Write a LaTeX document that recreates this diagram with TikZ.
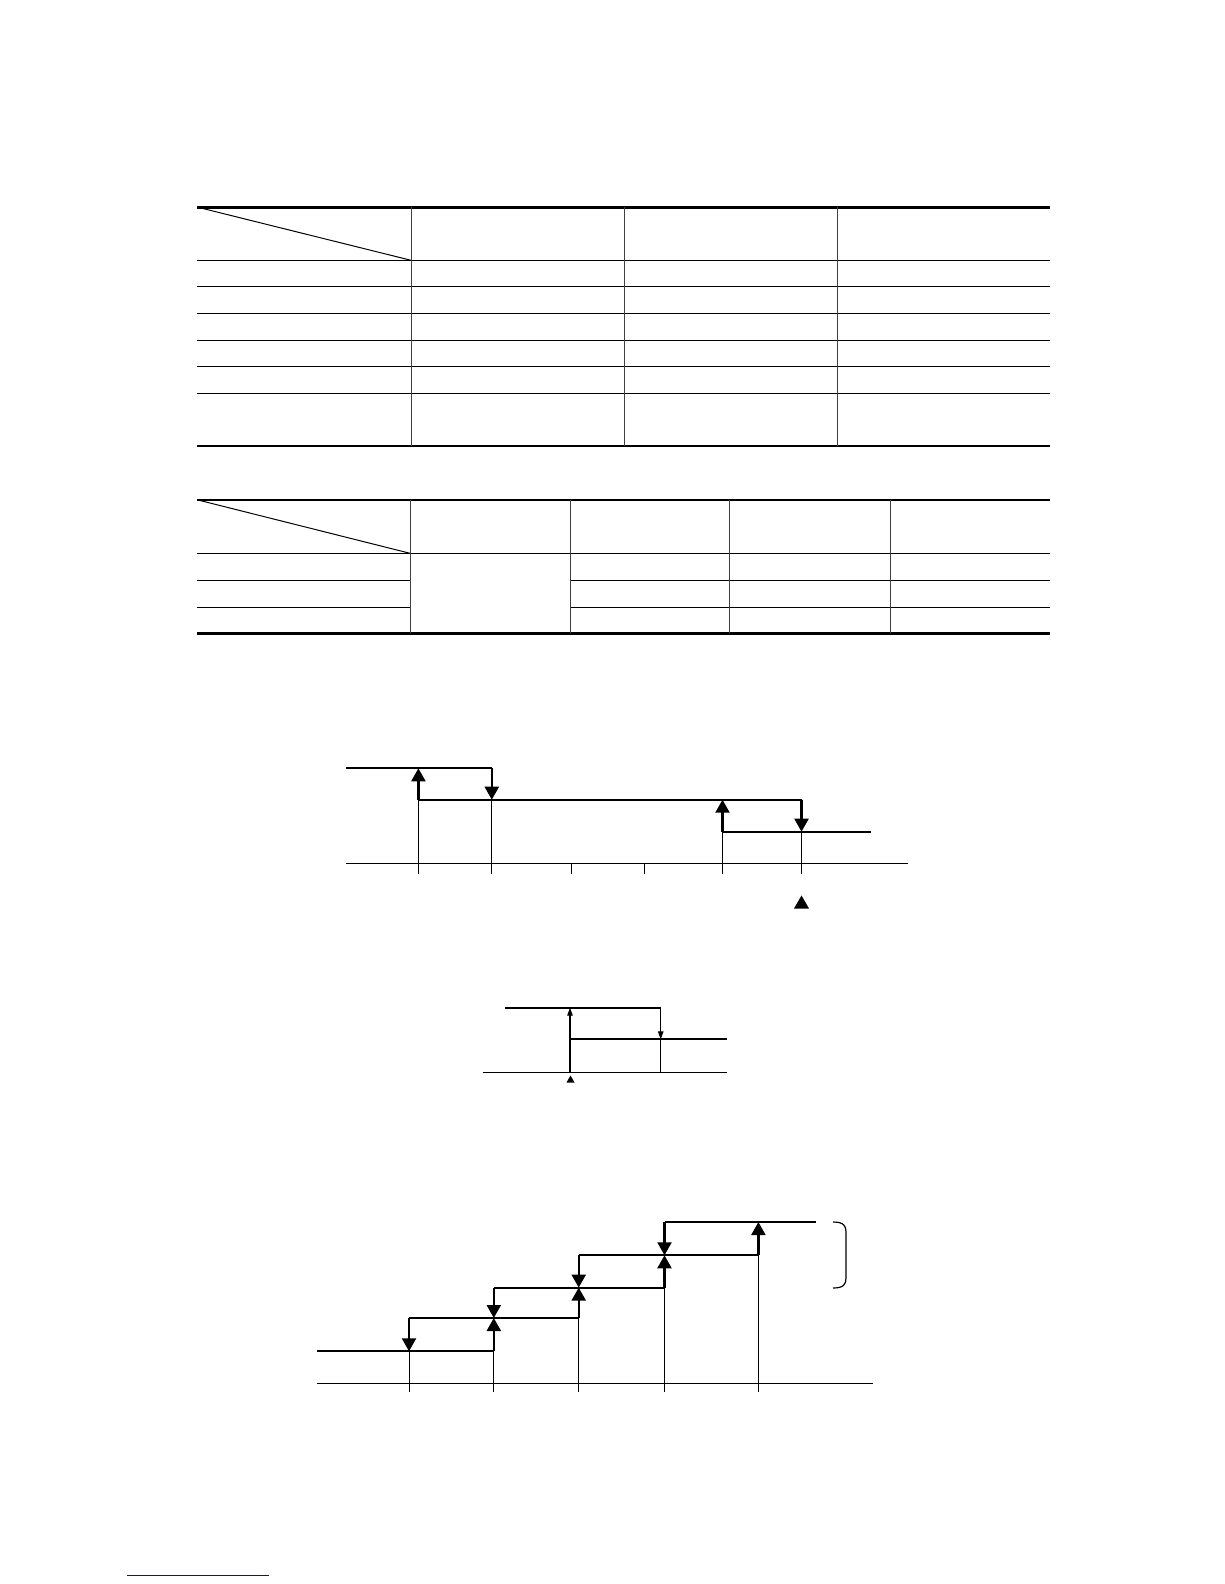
\documentclass[tikz,border=0pt]{standalone}
\usetikzlibrary{arrows.meta}
\definecolor{linkblue}{RGB}{16,16,128}
\begin{document}
\begin{tikzpicture}[x=1pt,y=-1pt,
  rule/.style={line width=1.1pt},
  heavyrule/.style={line width=2.4pt},
  colrule/.style={line width=0.9pt, black!75},
  thinline/.style={line width=1pt},
  level/.style={line width=2.2pt},
  bigarrow/.style={line width=2.2pt,-{Triangle[length=13pt,width=14pt]}},
  smallarrow/.style={line width=1.2pt,-{Triangle[length=8pt,width=5.5pt]}},
  marker/.style={fill=black},
]
\useasboundingbox (0,0) rectangle (1224,1584);

% ---------- Table 1 ----------
\draw[heavyrule] (197,207.3) -- (1050,207.3);
\draw[heavyrule] (197,446) -- (1050,446);
\foreach \y in {260.3,286.3,313.3,340.3,366.7,393.7}
  \draw[rule] (197,\y) -- (1050,\y);
\foreach \x in {411,624.3,837.7}
  \draw[colrule] (\x,207.3) -- (\x,446);
\draw[thinline] (198,207.3) -- (411,260.3);

% ---------- Table 2 ----------
\draw[heavyrule] (197,500) -- (1050,500);
\draw[heavyrule] (197,633.3) -- (1050,633.3);
\draw[rule] (197,553.3) -- (1050,553.3);
\foreach \y in {580.3,607.3} {
  \draw[rule] (197,\y) -- (410,\y);
  \draw[rule] (570,\y) -- (1050,\y);
}
\foreach \x in {410,570,729.7,890}
  \draw[colrule] (\x,500) -- (\x,633.3);
\draw[thinline] (198,500) -- (410,553.3);

% ---------- Graph 1 ----------
\draw[thinline] (345.8,863.3) -- (908.4,863.3);
\foreach \x in {571.6,644.6} \draw[thinline] (\x,863.3) -- (\x,874);
\draw[thinline] (418.4,799.7) -- (418.4,874);
\draw[thinline] (491.8,799.7) -- (491.8,874);
\draw[thinline] (722.5,831.7) -- (722.5,874);
\draw[thinline] (801.5,831.7) -- (801.5,874);
\draw[level] (345.8,768.3) -- (491.8,768.3);
\draw[bigarrow] (491.8,768.3) -- (491.8,799.7);
\draw[bigarrow] (418.4,799.7) -- (418.4,768.3);
\draw[level] (418.4,799.7) -- (801.5,799.7);
\draw[bigarrow] (801.5,799.7) -- (801.5,831.7);
\draw[bigarrow] (722.5,831.7) -- (722.5,799.7);
\draw[level] (722.5,831.7) -- (870.7,831.7);
\fill[marker] (801.5,895.5) -- (809,908.5) -- (794,908.5) -- cycle;

% ---------- Graph 2 ----------
\draw[thinline] (482.7,1072.3) -- (727.3,1072.3);
\draw[level] (505,1007.7) -- (660.7,1007.7);
\draw[level] (570,1039.3) -- (727.3,1039.3);
\draw[line width=1.3pt] (570,1072.3) -- (570,1039.3);
\draw[line width=1.3pt] (660.7,1072.3) -- (660.7,1039.3);
\draw[smallarrow] (570,1039.3) -- (570,1007.7);
\draw[smallarrow] (660.7,1007.7) -- (660.7,1039.3);
\fill[marker] (570.5,1075.5) -- (574.5,1082.5) -- (566.5,1082.5) -- cycle;

% ---------- Graph 3 ----------
\def\La{1351.3}\def\Lb{1318}\def\Lc{1287.6}\def\Ld{1255.3}\def\Le{1222}
\draw[thinline] (317,1383.6) -- (872.5,1383.6);
\draw[thinline] (409,\La) -- (409,1392);
\draw[thinline] (493.8,\La) -- (493.8,1392);
\draw[thinline] (578.7,\Lb) -- (578.7,1392);
\draw[thinline] (664.5,\Lc) -- (664.5,1392);
\draw[thinline] (758.4,\Ld) -- (758.4,1392);
\draw[level] (317,\La) -- (493.8,\La);
\draw[level] (409,\Lb) -- (578.7,\Lb);
\draw[level] (493.8,\Lc) -- (664.5,\Lc);
\draw[level] (578.7,\Ld) -- (758.4,\Ld);
\draw[level] (664.5,\Le) -- (816,\Le);
\draw[bigarrow] (493.8,\La) -- (493.8,\Lb);
\draw[bigarrow] (578.7,\Lb) -- (578.7,\Lc);
\draw[bigarrow] (664.5,\Lc) -- (664.5,\Ld);
\draw[bigarrow] (758.4,\Ld) -- (758.4,\Le);
\draw[bigarrow] (409,\Lb) -- (409,\La);
\draw[bigarrow] (493.8,\Lc) -- (493.8,\Lb);
\draw[bigarrow] (578.7,\Ld) -- (578.7,\Lc);
\draw[bigarrow] (664.5,\Le) -- (664.5,\Ld);
\draw[line width=1.2pt] (833,1222) .. controls (844,1222) and (846,1226) .. (846,1232)
  -- (846,1278) .. controls (846,1284) and (844,1288) .. (833,1288);

% ---------- link underline ----------
\draw[line width=1.6pt, linkblue] (127.3,1575.3) -- (269,1575.3);
\end{tikzpicture}
\end{document}
